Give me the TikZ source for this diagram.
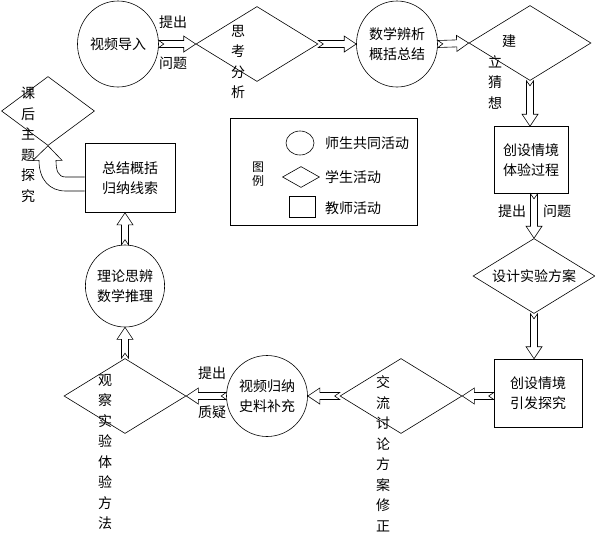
\documentclass[tikz,border=0pt]{standalone}
\usepackage{fontspec}
\setmainfont{Noto Sans CJK SC}
\usepackage{xcolor}
\usetikzlibrary{shapes.geometric,calc}
\definecolor{FlowInk}{HTML}{000000}
\definecolor{FlowFill}{HTML}{FFFFFF}

\tikzset{
    together/.style={draw=FlowInk, ellipse, line width=0.6pt, inner sep=0pt, minimum width=81pt, minimum height=86pt, align=center},
    student/.style={draw=FlowInk, diamond, shape aspect=1.63, line width=0.6pt, inner sep=0pt, minimum width=122pt, minimum height=75pt},
    teacher/.style={draw=FlowInk, rectangle, line width=0.6pt, inner sep=0pt, align=center},
    vtext/.style={inner sep=0pt, align=center},
    htext/.style={inner sep=0pt},
    blockline/.style={draw=FlowInk, line width=0.6pt, line join=miter},
    blockarrow/.style={blockline, to path={
        let \p1=($(\tikztotarget)-(\tikztostart)$), \n1={atan2(\y1,\x1)}, \n2={veclen(\x1,\y1)} in
        {[shift={(\tikztostart)}, rotate=\n1]
        (0pt,3.5pt) -- (\n2-12pt,3.5pt) -- (\n2-12pt,8pt) -- (\n2,0pt) -- (\n2-12pt,-8pt)
        -- (\n2-12pt,-3.5pt) -- (0pt,-3.5pt) -- (5pt,0pt) -- cycle}}},
}

\begin{document}
\begin{tikzpicture}[x=1pt, y=-1pt, font=\fontsize{14}{20.5}\selectfont]
        \useasboundingbox (0,0) rectangle (595,542);
        \node[together] (intro) at (118,44) {视频导入};
        \node[student] (think) at (257,44) {};
        \node[vtext] (thinktxt) at (238,62) {思\\考\\分\\析};
        \node[together] (analyse) at (397,44) {数学辨析\\概括总结};
        \node[student] (guess) at (530,43) {};
        \node[vtext, align=left] (guesstxt) at (502,72) {\hspace{1em}建\\立\\猜\\想};
        \node[teacher, minimum width=74pt, minimum height=67pt] (scene1) at (531,160) {创设情境\\体验过程};
        \node[student] (design) at (534,276) {设计实验方案};
        \node[teacher, minimum width=88pt, minimum height=68pt] (scene2) at (538,393) {创设情境\\引发探究};
        \node[student] (discuss) at (401,396) {};
        \node[vtext] (discusstxt) at (383,454) {交\\流\\讨\\论\\方\\案\\修\\正};
        \node[together, minimum height=81pt] (video) at (267,396) {视频归纳\\史料补充};
        \node[student] (observe) at (125,396) {};
        \node[vtext] (observetxt) at (105,452) {观\\察\\实\\验\\体\\验\\方\\法};
        \node[together, minimum width=78pt, minimum height=82pt] (theory) at (125,286) {理论思辨\\数学推理};
        \node[teacher, minimum width=90pt, minimum height=69pt] (summary) at (130,178) {总结概括\\归纳线索};
        \node[student, minimum width=93pt, minimum height=69pt] (after) at (48,111) {};
        \node[vtext] (aftertxt) at (28,145) {课\\后\\主\\题\\探\\究};

        \node[draw=FlowInk, line width=0.6pt, inner sep=0pt, minimum width=187pt, minimum height=107pt] (legend) at (323.5,171.5) {};
        \node[vtext, font=\fontsize{12}{14}\selectfont] (legendtitle) at (258,174) {图\\例};
        \node[together, minimum width=28pt, minimum height=24pt] (keytogether) at (300,143) {};
        \node[student, minimum width=37pt, minimum height=21pt] (keystudent) at (301,177) {};
        \node[teacher, minimum width=26pt, minimum height=21pt] (keyteacher) at (302,207) {};
        \node[htext, anchor=west] (keytogethertxt) at (325,143) {师生共同活动};
        \node[htext, anchor=west] (keystudenttxt) at (325,177) {学生活动};
        \node[htext, anchor=west] (keyteachertxt) at (325,208) {教师活动};

        \draw[blockarrow] (intro.east) to (think.west);
        \node[htext] (ask1) at (173,22) {提出};
        \node[htext] (ask2) at (173,63) {问题};
        \draw[blockarrow] (think.east) to (analyse.west);
        \draw[blockarrow] (analyse.east) to (guess.west);
        \draw[blockarrow] (guess.south) to (guess.south |- scene1.north);
        \draw[blockarrow] (design.north |- scene1.south) to (design.north);
        \node[htext] (ask3) at (512,211) {提出};
        \node[htext] (ask4) at (557,211) {问题};
        \draw[blockarrow] (design.south) to (design.south |- scene2.north);
        \draw[blockarrow] (scene2.west |- discuss.east) to (discuss.east);
        \draw[blockarrow] (discuss.west) to (video.east);
        \draw[blockarrow] (video.west) to (observe.east);
        \node[htext] (doubt1) at (212,373) {提出};
        \node[htext] (doubt2) at (212,412) {质疑};
        \draw[blockarrow] (observe.north) to (theory.south);
        \draw[blockarrow] (theory.north) to (theory.north |- summary.south);
        \draw[blockline] ($(summary.west)+(0,-1)$) -- ($(summary.west)+(-19,-1)$)
            .. controls ($(summary.west)+(-27,-1)$) and ($(after.south)+(8,24)$) .. ($(after.south)+(8,14.5)$)
            -- ($(after.south)+(14,14.5)$) -- (after.south) -- ($(after.south)+(-15,14.5)$)
            -- ($(after.south)+(-9,14.5)$)
            .. controls ($(after.south)+(-9,34)$) and ($(summary.west)+(-35,13)$) .. ($(summary.west)+(-19,13)$)
            -- ($(summary.west)+(0,13)$);
    \end{tikzpicture}
\end{document}
